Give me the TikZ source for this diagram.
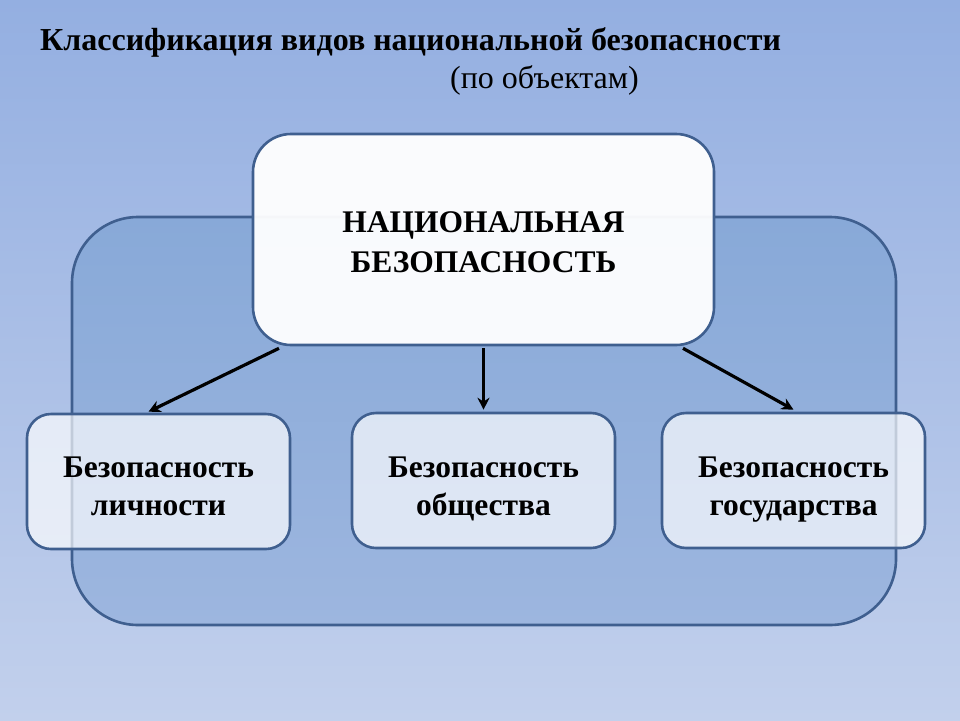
\documentclass[tikz,border=0pt]{standalone}
\usepackage{fontspec}
\setmainfont{Liberation Serif}
\usetikzlibrary{arrows.meta,calc}
\definecolor{bgtop}{HTML}{94AFE1}
\definecolor{bgbot}{HTML}{C2D0EC}
\definecolor{bigtop}{HTML}{88A9D8}
\definecolor{bigbot}{HTML}{9DB6DF}
\definecolor{edge}{HTML}{3F5F8F}
\tikzset{
  bigbox/.style={draw=edge, line width=2.6pt, rounded corners=66pt, top color=bigtop, bottom color=bigbot, minimum width=824pt, minimum height=408pt, inner sep=0pt},
  mainbox/.style={draw=edge, line width=2.6pt, rounded corners=38pt, fill=white, fill opacity=0.95, text opacity=1, minimum width=461pt, minimum height=211pt, inner sep=0pt},
  subbox/.style={draw=edge, line width=2.6pt, rounded corners=24pt, fill=white, fill opacity=0.68, minimum width=263pt, minimum height=135pt, inner sep=0pt},
  boxtext/.style={align=center, inner sep=0pt, font=\fontsize{31.5}{38}\selectfont\bfseries},
  link/.style={line width=3.2pt, -{Stealth[length=12pt,width=12pt]}},
  titletext/.style={anchor=base west, inner sep=0pt, font=\fontsize{32}{38}\selectfont}
}
\begin{document}
\begin{tikzpicture}[x=1pt,y=-1pt]
\useasboundingbox (0,0) rectangle (960,720);
\shade[top color=bgtop, bottom color=bgbot] (0,0) rectangle (960,720);
\node[titletext, font=\fontsize{32}{38}\selectfont\bfseries] (title) at (40,50) {Классификация видов национальной безопасности};
\node[titletext] (subtitle) at (450,88) {(по объектам)};
\node[bigbox] (big) at (484,421) {};
\node[mainbox] (top) at (483.5,239.5) {};
\node[boxtext, font=\fontsize{31.5}{40}\selectfont\bfseries] (toptext) at ([yshift=-3pt]top.center) {НАЦИОНАЛЬНАЯ\\БЕЗОПАСНОСТЬ};
\node[subbox] (left) at (158.5,481.5) {};
\node[subbox] (mid) at (483.5,480.5) {};
\node[subbox] (right) at (793.5,480.5) {};
\node[boxtext] (lefttext) at ([yshift=-5pt]left.center) {Безопасность\\личности};
\node[boxtext] (midtext) at ([yshift=-8pt]mid.center) {Безопасность\\общества};
\node[boxtext] (righttext) at ([yshift=-9pt]right.center) {Безопасность\\государства};
\draw[link] ([xshift=-204.5pt,yshift=-2pt]top.south) -- ([xshift=-10pt,yshift=1pt]left.north);
\draw[link] ([yshift=-2pt]top.south) -- ([yshift=2pt]mid.north);
\draw[link] ([xshift=199.5pt,yshift=-2pt]top.south) -- ([yshift=2pt]right.north);
\end{tikzpicture}
\end{document}
